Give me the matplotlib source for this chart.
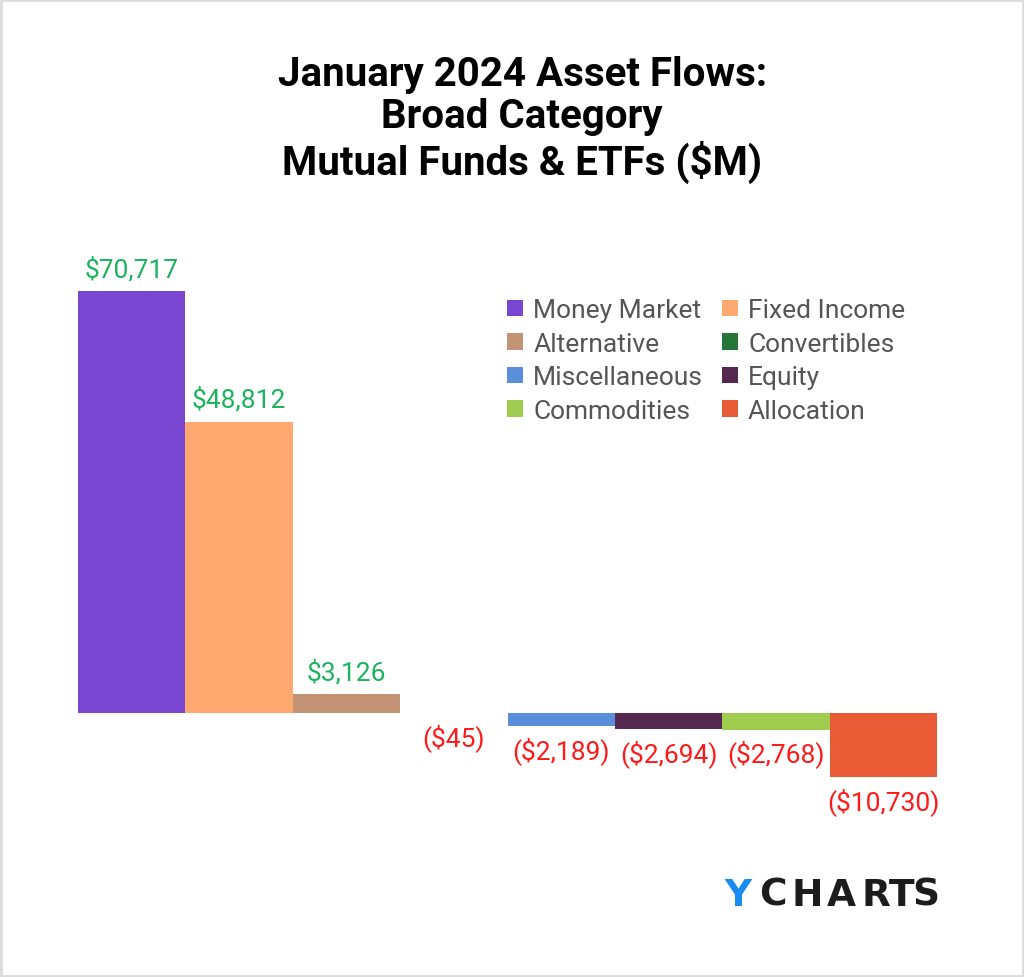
import matplotlib.pyplot as plt
from matplotlib.patches import Rectangle

categories = ["Money Market", "Fixed Income", "Alternative", "Convertibles",
              "Miscellaneous", "Equity", "Commodities", "Allocation"]
flows = [70717, 48812, 3126, -45, -2189, -2694, -2768, -10730]
colors = ["#7846d1", "#ffa86f", "#c29475", "#237636",
          "#5a8ed8", "#55284f", "#9fcb4f", "#e95b35"]

POS_COLOR = "#1bb35c"
NEG_COLOR = "#ff1a1a"

plt.rcParams['font.family'] = ['Roboto', 'DejaVu Sans']

fig = plt.figure(figsize=(10.24, 9.78), dpi=100)
ax = fig.add_axes([0.0762, 0.1784, 0.8389, 0.5797])

x = list(range(len(categories)))
bars = ax.bar(x, flows, width=1.0, color=colors)

for xi, v in zip(x, flows):
    if v >= 0:
        ax.annotate(f"${v:,}", (xi, v), xytext=(0, 7), textcoords="offset points",
                    ha="center", va="bottom", fontsize=19, color=POS_COLOR)
    else:
        ax.annotate(f"(${-v:,})", (xi, v), xytext=(0, -7), textcoords="offset points",
                    ha="center", va="top", fontsize=19, color=NEG_COLOR)

ax.set_xlim(-0.5, len(categories) - 0.5)
ax.set_ylim(-15000, 80000)
ax.axis("off")

# legend fills row by row in the original, matplotlib fills by column
order = [0, 2, 4, 6, 1, 3, 5, 7]
leg = ax.legend(handles=[bars[i] for i in order], labels=[categories[i] for i in order],
                ncol=2, loc="upper left", bbox_to_anchor=(0.487, 0.908),
                frameon=False, fontsize=19,
                handlelength=0.6, handleheight=0.6, handletextpad=0.4,
                columnspacing=0.7, labelspacing=0.36, borderaxespad=0)
for t in leg.get_texts():
    t.set_color("#555555")

fig.text(0.51, 1 - 120 / 978, "January 2024 Asset Flows:\nBroad Category\nMutual Funds & ETFs ($M)",
         ha="center", va="center", fontsize=29, fontweight="bold",
         linespacing=1.15, color="black")

# logo, letter by letter to get the wide tracking
logo_x = [738, 773, 807.5, 841, 875.5, 901.5, 925.5]
for i, (ch, lx) in enumerate(zip("YCHARTS", logo_x)):
    fig.text(lx / 1024, 1 - 896 / 978, ch, ha="center", va="center", fontsize=27,
             fontweight="bold", color="#1a8cf0" if i == 0 else "#1c1c1c",
             family="DejaVu Sans")

fig.patches.append(Rectangle((0.001, 0.001), 0.998, 0.998, transform=fig.transFigure,
                             fill=False, edgecolor="#dcdcdc", linewidth=2))

fig.savefig("out.png", dpi=100, facecolor="white")
